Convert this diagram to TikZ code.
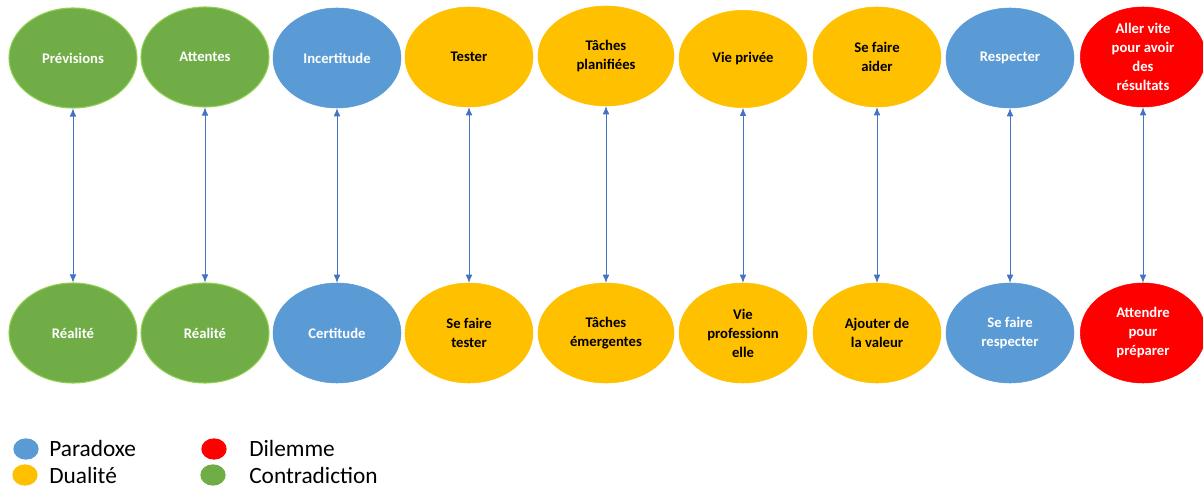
\documentclass[tikz,border=0pt]{standalone}
\usepackage{fontspec}
\setmainfont{Carlito}
\usetikzlibrary{shapes.geometric,arrows.meta}

\definecolor{contra}{RGB}{112,173,71}
\definecolor{contraline}{RGB}{146,208,80}
\definecolor{para}{RGB}{91,155,213}
\definecolor{dual}{RGB}{255,192,0}
\definecolor{dilem}{RGB}{255,0,0}
\definecolor{lienbleu}{RGB}{68,114,196}

\begin{document}
\begin{tikzpicture}[x=0.75pt,y=-0.75pt,
  bulle/.style={ellipse,minimum width=96pt,minimum height=75pt,inner sep=0pt,align=center,
    font=\fontsize{11}{14.25}\selectfont\bfseries},
  contradiction/.style={bulle,fill=contra,draw=contraline,line width=0.8pt,text=white},
  paradoxe/.style={bulle,fill=para,draw=para,text=white},
  dualite/.style={bulle,fill=dual,draw=dual,text=black},
  dilemme/.style={bulle,fill=dilem,draw=dilem,text=white},
  lien/.style={lienbleu,line width=0.6pt,{Latex[length=6pt,width=5pt]}-{Latex[length=6pt,width=5pt]}},
  pastille/.style={ellipse,minimum width=19pt,minimum height=16pt,inner sep=0pt},
  legende/.style={anchor=base west,inner sep=0pt,font=\fontsize{17.5}{21}\selectfont}]
%\draw[step=50,gray,very thin] (0,0) grid (1203,488); %background grid
\useasboundingbox (0,0) rectangle (1203,488);

% top row
\node[contradiction] (prev) at (73,58)  {Prévisions};
\node[contradiction] (att)  at (205,57) {Attentes};
\node[paradoxe]      (inc)  at (337,58) {Incertitude};
\node[dualite]       (test) at (469,57) {Tester};
\node[dualite,minimum width=102pt] (plan) at (606,56) {Tâches\\planifiées};
\node[dualite,minimum height=73pt] (priv) at (743,59) {Vie privée};
\node[dualite]       (aide) at (877,57) {Se faire\\aider};
\node[paradoxe]      (resp) at (1010,58) {Respecter};
\node[dilemme,minimum width=94pt] (vite) at (1143,57) {Aller vite\\pour avoir\\des\\résultats};

% bottom row
\node[contradiction] (real)  at (73,333)  {Réalité};
\node[contradiction] (realb) at (205,333) {Réalité};
\node[paradoxe]      (cert)  at (337,333) {Certitude};
\node[dualite]       (stest) at (469,333) {Se faire\\tester};
\node[dualite,minimum width=102pt] (emer) at (606,333) {Tâches\\émergentes};
\node[dualite]       (pro)   at (743,333) {Vie\\professionn\\elle};
\node[dualite]       (val)   at (877,333) {Ajouter de\\la valeur};
\node[paradoxe]      (sresp) at (1010,333) {Se faire\\respecter};
\node[dilemme,minimum width=94pt] (prep) at (1143,333) {Attendre\\pour\\préparer};

\draw[lien] (prev.south) -- (real.north);
\draw[lien] (att.south)  -- (realb.north);
\draw[lien] (inc.south)  -- (cert.north);
\draw[lien] (test.south) -- (stest.north);
\draw[lien] (plan.south) -- (emer.north);
\draw[lien] (priv.south) -- (pro.north);
\draw[lien] (aide.south) -- (val.north);
\draw[lien] (resp.south) -- (sresp.north);
\draw[lien] (vite.south) -- (prep.north);

% legend
\node[pastille,fill=para]   (lpara)  at (26,449)  {};
\node[pastille,fill=dual]   (ldual)  at (25,475)  {};
\node[pastille,fill=dilem]  (ldil)   at (214,449) {};
\node[pastille,fill=contra] (lcontra) at (213,475) {};
\node[legende] (tpara)   at (49,456)  {Paradoxe};
\node[legende] (tdual)   at (49,483)  {Dualité};
\node[legende] (tdil)    at (249,456) {Dilemme};
\node[legende] (tcontra) at (249,483) {Contradiction};
\end{tikzpicture}
\end{document}
